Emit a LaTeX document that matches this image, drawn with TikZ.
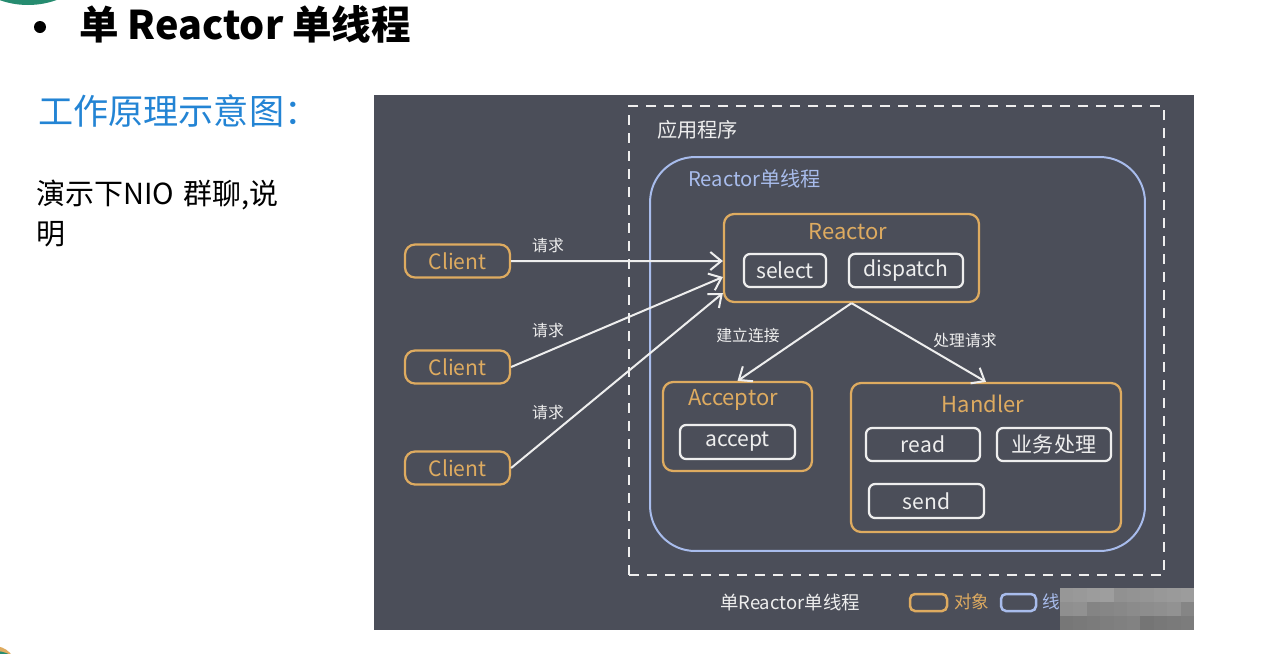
\documentclass[tikz,border=0pt]{standalone}
\usepackage{fontspec}
\setmainfont{Noto Sans CJK SC}
\usetikzlibrary{arrows.meta,calc}

\definecolor{panelgray}{RGB}{75,78,89}
\definecolor{objorange}{RGB}{222,171,96}
\definecolor{threadblue}{RGB}{168,188,236}
\definecolor{boxwhite}{RGB}{238,238,238}
\definecolor{headblue}{RGB}{35,132,212}
\definecolor{logogreen}{RGB}{38,140,112}

\tikzset{
    objbox/.style={draw=objorange, line width=0.45mm, rounded corners=2mm, text=objorange, font=\fontsize{12}{12}\selectfont},
    funcbox/.style={draw=boxwhite, line width=0.45mm, rounded corners=1.2mm, text=boxwhite, font=\fontsize{12}{12}\selectfont},
    objtitle/.style={text=objorange, font=\fontsize{12.5}{12.5}\selectfont},
    lbl/.style={text=boxwhite, font=\fontsize{9}{9}\selectfont},
    flow/.style={draw=boxwhite, line width=0.4mm, -{Straight Barb[length=2.2mm,width=3.6mm]}},
}

\begin{document}
\begin{tikzpicture}[x=0.02cm, y=-0.02cm]
        \useasboundingbox (0,0) rectangle (1263,653);

        % 页面装饰
        \fill[logogreen] (28,-79) circle (84);
        \fill[objorange] (-6,668) circle (22);
        \fill[logogreen] (-5,683) circle (32);

        % 标题
        \fill[black] (40,27) circle (6);
        \node[anchor=west, font=\fontsize{22.5}{22.5}\selectfont\bfseries] (title) at (73,24) {单 Reactor 单线程};
        \node[anchor=west, text=headblue, font=\fontsize{20}{20}\selectfont] (subtitle) at (32,111) {工作原理示意图：};
        \node[anchor=north west, align=left, text width=5cm, font=\fontsize{16.5}{22.7}\selectfont] (note) at (30,174) {演示下NIO 群聊,说\\明};

        % 背景面板
        \fill[panelgray] (374,95) rectangle (1194,630);

        % 应用程序 (虚线框)
        \node[draw=boxwhite, line width=0.5mm, dash pattern=on 2mm off 1.6mm, minimum width=10.7cm, minimum height=9.38cm] (app) at (896.5,340.5) {};
        \node[anchor=west, text=boxwhite, font=\fontsize{11.5}{11.5}\selectfont] (apptitle) at (651,130) {应用程序};

        % Reactor单线程 (线程框)
        \node[draw=threadblue, line width=0.4mm, rounded corners=9mm, minimum width=9.9cm, minimum height=7.88cm] (thread) at (897.5,354) {};
        \node[anchor=west, text=threadblue, font=\fontsize{11.5}{11.5}\selectfont] (threadtitle) at (682,179) {Reactor单线程};

        % Reactor
        \node[objbox, minimum width=5.1cm, minimum height=1.76cm] (reactor) at (851.5,258) {};
        \node[objtitle] (reactortitle) at (848,232) {Reactor};
        \node[funcbox, minimum width=1.64cm, minimum height=0.66cm] (select) at (785,270.5) {select};
        \node[funcbox, minimum width=2.28cm, minimum height=0.66cm] (dispatch) at (906,270.5) {dispatch};

        % Acceptor
        \node[objbox, minimum width=2.98cm, minimum height=1.78cm] (acceptor) at (737.5,426.5) {};
        \node[objtitle] (acceptortitle) at (733,400) {Acceptor};
        \node[funcbox, minimum width=2.3cm, minimum height=0.68cm] (accept) at (737.5,442) {accept};

        % Handler
        \node[objbox, minimum width=5.4cm, minimum height=2.98cm] (handler) at (986,457.5) {};
        \node[objtitle] (handlertitle) at (983,404) {Handler};
        \node[funcbox, minimum width=2.28cm, minimum height=0.66cm] (read) at (923,444.5) {read};
        \node[funcbox, minimum width=2.28cm, minimum height=0.66cm] (business) at (1054,444.5) {业务处理};
        \node[funcbox, minimum width=2.3cm, minimum height=0.68cm] (send) at (926.5,501) {send};

        % 客户端及请求
        \foreach \i/\y/\ly/\s in {1/261/245/-0.6mm, 2/367/330/-3.8mm, 3/468/412/-7mm}
            {
                \node[objbox, minimum width=2.1cm, minimum height=0.66cm] (client\i) at (457.5,\y) {Client};
                \node[lbl] (req\i) at (548,\ly) {请求};
                \draw[flow] (client\i.east) -- ([yshift=\s]reactor.west);
            }

        % 分发
        \draw[flow] (reactor.south) -- (acceptor.north);
        \draw[flow] (reactor.south) -- (handler.north);
        \node[lbl] (connect) at (748,335) {建立连接};
        \node[lbl] (handle) at (965,340) {处理请求};

        % 图例
        \node[text=boxwhite, font=\fontsize{10.5}{10.5}\selectfont] (legend) at (790,602) {单Reactor单线程};
        \draw[objorange, line width=0.5mm, rounded corners=1mm] (910,594) rectangle (947,611);
        \node[anchor=west, text=objorange, font=\fontsize{10}{10}\selectfont, inner sep=1pt] (legendobj) at (952,602) {对象};
        \draw[threadblue, line width=0.5mm, rounded corners=1mm] (1001,594) rectangle (1036,611);
        \node[anchor=west, text=threadblue, font=\fontsize{10}{10}\selectfont, inner sep=1pt] (legendthread) at (1040,602) {线};

        % 马赛克
        \foreach \c in {0,...,9}
            \foreach \r in {0,1,2}
                {
                    \pgfmathsetmacro{\shade}{int(25+\r*18+mod(\c*37+\r*53+11,20))}
                    \fill[black!\shade!gray!60!white] (1060+\c*13.4,588+\r*14) rectangle ++(13.4,14);
                }

    \end{tikzpicture}
\end{document}
